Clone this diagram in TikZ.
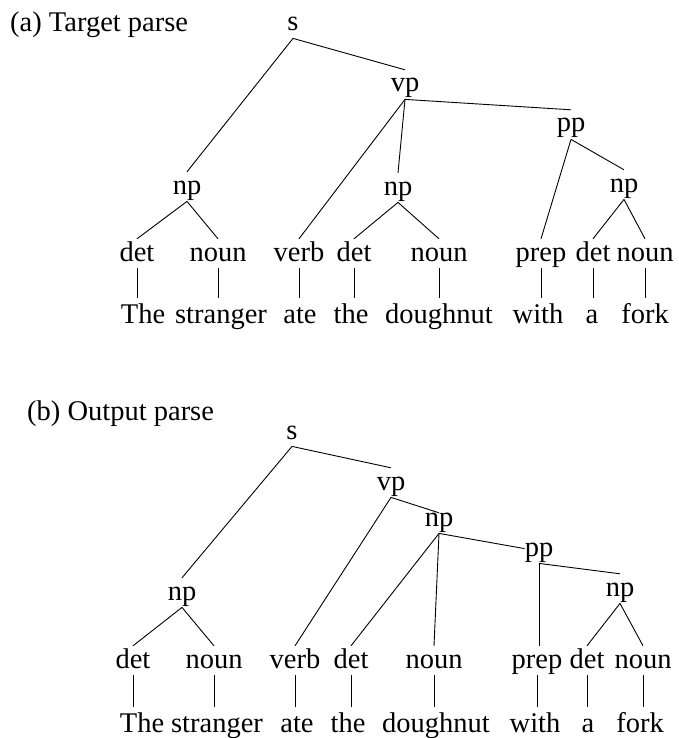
\documentclass[tikz,border=0pt]{standalone}
\usepackage{fontspec}
\setmainfont{Liberation Serif}
\begin{document}
\begin{tikzpicture}[x=1pt,y=-1pt,
  cat/.style={anchor=base, inner xsep=0pt, inner ysep=1.5pt,
    text height=20.5pt, text depth=5.7pt, font=\fontsize{28.5}{34}\selectfont},
  word/.style={cat, text height=23.4pt},
  caption/.style={anchor=base west, inner sep=0pt, font=\fontsize{28.5}{34}\selectfont},
  branch/.style={line width=0.9pt, black}]
\useasboundingbox (0,0) rectangle (678,738);

% ---------- (a) target parse ----------
\node[caption] (ta) at (10,32) {(a) Target parse};
\node[cat] (as)   at (293,31)  {s};
\node[cat] (avp)  at (405,92)  {vp};
\node[cat] (app)  at (571,132) {pp};
\node[cat] (anp1) at (187,194) {np};
\node[cat] (anp2) at (398,195) {np};
\node[cat] (anp3) at (624,192) {np};

\node[cat] (ad1) at (137,261) {det};
\node[cat] (an1) at (218,261) {noun};
\node[cat] (av)  at (299,261) {verb};
\node[cat] (ad2) at (354,261) {det};
\node[cat] (an2) at (439,261) {noun};
\node[cat] (ap)  at (541,261) {prep};
\node[cat] (ad3) at (593,261) {det};
\node[cat] (an3) at (645,261) {noun};

\node[word] (aw1) at (143,323) {The};
\node[word] (aw2) at (221,323) {stranger};
\node[word] (aw3) at (300,323) {ate};
\node[word] (aw4) at (351,323) {the};
\node[word] (aw5) at (439,323) {doughnut};
\node[word] (aw6) at (538,323) {with};
\node[word] (aw7) at (592,323) {a};
\node[word] (aw8) at (645,323) {fork};

\draw[branch] (as.south) -- (anp1.north);
\draw[branch] (as.south) -- (avp.north);
\draw[branch] (avp.south) -- (av.north);
\draw[branch] (avp.south) -- (anp2.north);
\draw[branch] (avp.south) -- (app.north);
\draw[branch] (app.south) -- (ap.north);
\draw[branch] (app.south) -- (anp3.north);
\draw[branch] (anp1.south) -- (ad1.north);
\draw[branch] (anp1.south) -- (an1.north);
\draw[branch] (anp2.south) -- (ad2.north);
\draw[branch] (anp2.south) -- (an2.north);
\draw[branch] (anp3.south) -- (ad3.north);
\draw[branch] (anp3.south) -- (an3.north);
\foreach \p/\w in {ad1/aw1,an1/aw2,av/aw3,ad2/aw4,an2/aw5,ap/aw6,ad3/aw7,an3/aw8}
  \draw[branch] (\p.south) -- (\p.south |- \w.north);

% ---------- (b) output parse ----------
\node[caption] (tb) at (27,420) {(b) Output parse};
\node[cat] (bs)   at (292,439) {s};
\node[cat] (bvp)  at (391,490) {vp};
\node[cat] (bnp2) at (439,526) {np};
\node[cat] (bpp)  at (539,556) {pp};
\node[cat] (bnp3) at (620,596) {np};
\node[cat] (bnp1) at (182,600) {np};

\node[cat] (bd1) at (133,668) {det};
\node[cat] (bn1) at (214,668) {noun};
\node[cat] (bv)  at (295,668) {verb};
\node[cat] (bd2) at (351,668) {det};
\node[cat] (bn2) at (434,668) {noun};
\node[cat] (bp)  at (537,668) {prep};
\node[cat] (bd3) at (587,668) {det};
\node[cat] (bn3) at (643,668) {noun};

\node[word] (bw1) at (142,732) {The};
\node[word] (bw2) at (217,732) {stranger};
\node[word] (bw3) at (297,732) {ate};
\node[word] (bw4) at (348,732) {the};
\node[word] (bw5) at (436,732) {doughnut};
\node[word] (bw6) at (535,732) {with};
\node[word] (bw7) at (588,732) {a};
\node[word] (bw8) at (640,732) {fork};

\draw[branch] (bs.south) -- (bnp1.north);
\draw[branch] (bs.south) -- (bvp.north);
\draw[branch] (bvp.south) -- (bv.north);
\draw[branch] (bvp.south) -- ([yshift=-9pt]bnp2.north);
\draw[branch] (bnp2.south) -- (bd2.north);
\draw[branch] (bnp2.south) -- (bn2.north);
\draw[branch] (bnp2.south) -- (bpp.west);
\draw[branch] (bpp.south) -- (bpp.south |- bp.north);
\draw[branch] (bpp.south) -- (bnp3.north);
\draw[branch] (bnp1.south) -- (bd1.north);
\draw[branch] (bnp1.south) -- (bn1.north);
\draw[branch] (bnp3.south) -- (bd3.north);
\draw[branch] (bnp3.south) -- (bn3.north);
\foreach \p/\w in {bd1/bw1,bn1/bw2,bv/bw3,bd2/bw4,bn2/bw5,bp/bw6,bd3/bw7,bn3/bw8}
  \draw[branch] (\p.south) -- (\p.south |- \w.north);
\end{tikzpicture}
\end{document}
